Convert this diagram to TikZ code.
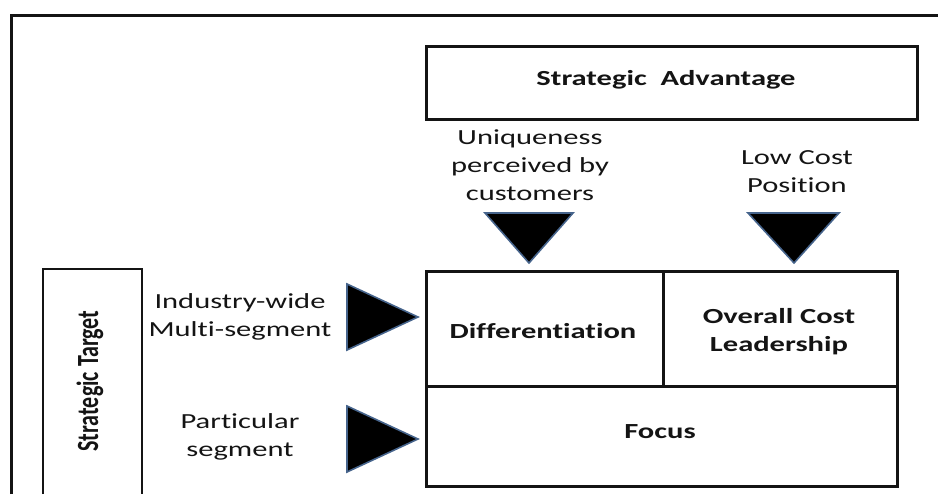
\documentclass[tikz,border=0pt]{standalone}
\usepackage{graphicx}
\usepackage{fontspec}
\setmainfont{Carlito}[FakeStretch=1.42, Ligatures={NoCommon}]
\newfontfamily\rotfont{Carlito}[Ligatures={NoCommon}]
\definecolor{triedge}{RGB}{70,100,140}
\definecolor{inkc}{RGB}{20,20,20}
\begin{document}
\begin{tikzpicture}[x=1pt,y=-1pt,
  txt/.style={font=\fontsize{21.5}{28}\selectfont, text=inkc, align=center, inner sep=0pt},
  boldtxt/.style={txt, font=\fontsize{21.5}{28}\selectfont\bfseries},
  cell/.style={draw=inkc, line width=2.6pt, rectangle, inner sep=0pt, anchor=north west},
  frame/.style={draw=inkc, line width=3pt},
  tri/.style={fill=black, draw=triedge, line width=1.6pt, line join=miter}
]
\useasboundingbox (0,0) rectangle (938,498);
% outer frame (open to the right and the bottom)
\coordinate (fbl) at (11,494);
\coordinate (ftl) at (11,15);
\coordinate (ftr) at (938,15);
\draw[frame] (fbl) -- (ftl) -- (ftr);

% Strategic Advantage box
\node[cell, minimum width=491pt, minimum height=73pt] (adv) at (425,45) {};
\node[boldtxt] (advt) at (666,80) {Strategic\ \ Advantage};

% main matrix
\node[cell, minimum width=237pt, minimum height=115pt] (diff) at (425,270) {};
\node[cell, minimum width=234pt, minimum height=115pt] (cost) at (662,270) {};
\node[cell, minimum width=471pt, minimum height=100pt] (focus) at (425,385) {};
\node[boldtxt] (difft) at (543,331) {Differentiation};
\node[boldtxt] (costt) at (779,332) {Overall Cost\\Leadership};
\node[boldtxt] (focust) at (660,432) {Focus};

% Strategic Target box (open at the bottom)
\coordinate (sbl) at (43,494);
\coordinate (stl) at (43,269);
\coordinate (str) at (142,269);
\coordinate (sbr) at (142,494);
\draw[draw=inkc, line width=2.6pt] (sbl) -- (stl) -- (str) -- (sbr);
\node[inner sep=0pt, rotate=90, text=inkc] (tgt) at (90,381)
  {\scalebox{1}[1.4]{\rotfont\fontsize{22}{26}\selectfont\bfseries Strategic Target}};

% labels
\node[txt] (uniq) at (530,165) {Uniqueness\\perceived by\\customers};
\node[txt] (low) at (797,172) {Low Cost\\Position};
\node[txt] (ind) at (240,317) {Industry-wide\\Multi-segment};
\node[txt] (part) at (240,437) {Particular\\segment};

% triangles
\draw[tri] (485,213) -- (573,213) -- (529,263) -- cycle;
\draw[tri] (748,213) -- (839,213) -- (794,263) -- cycle;
\draw[tri] (347,284) -- (418,317) -- (347,350) -- cycle;
\draw[tri] (347,406) -- (418,439) -- (347,472) -- cycle;
\end{tikzpicture}
\end{document}
